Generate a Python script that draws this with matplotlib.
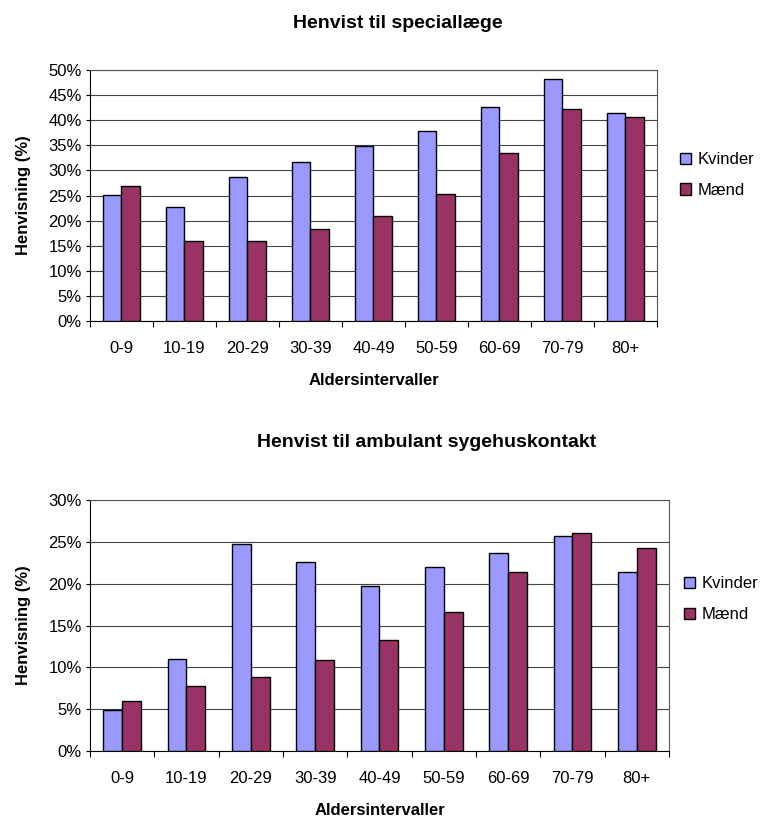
import numpy as np
import matplotlib.pyplot as plt
from matplotlib.ticker import PercentFormatter

plt.rcParams['font.family'] = ['Liberation Sans', 'DejaVu Sans']

# Data
age_groups = ['0-9', '10-19', '20-29', '30-39', '40-49', '50-59', '60-69', '70-79', '80+']
special_kvinder = [25.2, 22.8, 28.7, 31.6, 34.8, 37.8, 42.6, 48.3, 41.4]
special_maend = [26.8, 16.0, 16.0, 18.3, 20.9, 25.4, 33.5, 42.2, 40.7]
ambulant_kvinder = [4.9, 11.0, 24.7, 22.6, 19.7, 22.0, 23.7, 25.7, 21.4]
ambulant_maend = [6.0, 7.8, 8.8, 10.9, 13.3, 16.6, 21.4, 26.1, 24.3]

KVINDER_COLOR = '#9999FF'
MAEND_COLOR = '#993366'


def draw_panel(ax, kvinder, maend, title, ymax, title_x, title_pad, legend_x, legend_y):
    x = np.arange(len(age_groups))
    width = 0.292
    ax.bar(x - width / 2, kvinder, width, color=KVINDER_COLOR, edgecolor='black',
           linewidth=1.0, label='Kvinder', zorder=3)
    ax.bar(x + width / 2, maend, width, color=MAEND_COLOR, edgecolor='black',
           linewidth=1.0, label='Mænd', zorder=3)

    ax.set_xlim(-0.5, len(age_groups) - 0.5)
    ax.set_ylim(0, ymax)
    ax.set_yticks(np.arange(0, ymax + 0.1, 5))
    ax.yaxis.set_major_formatter(PercentFormatter(decimals=0))
    ax.yaxis.grid(True, color='#444444', linewidth=0.8, zorder=0)

    ax.set_xticks(x)
    ax.set_xticklabels(age_groups)
    ax.set_xticks(np.arange(-0.5, len(age_groups)), minor=True)
    ax.tick_params(axis='x', which='major', length=0, pad=14.5, labelsize=12)
    ax.tick_params(axis='x', which='minor', length=4, direction='out', width=0.8)
    ax.tick_params(axis='y', length=3, width=0.8, labelsize=12, pad=3)

    for sp in ax.spines.values():
        sp.set_linewidth(0.8)
        sp.set_color('black')
    ax.spines['top'].set_color('#555555')
    ax.spines['right'].set_color('#555555')

    ax.set_title(title, fontsize=14, fontweight='bold', pad=title_pad, x=title_x)
    ax.set_xlabel('Aldersintervaller', fontsize=12, fontweight='bold', labelpad=12)
    ax.set_ylabel('Henvisning (%)', fontsize=12, fontweight='bold', labelpad=12)

    ax.legend(loc='center left', bbox_to_anchor=(legend_x, legend_y), frameon=False,
              fontsize=12, handlelength=0.65, handleheight=0.65, handletextpad=0.4,
              labelspacing=0.95)


fig = plt.figure(figsize=(7.65, 8.22), dpi=100)
ax1 = fig.add_axes([0.1176, 0.6095, 0.7412, 0.3053])
ax2 = fig.add_axes([0.1176, 0.0864, 0.7569, 0.3053])

draw_panel(ax1, special_kvinder, special_maend, 'Henvist til speciallæge',
           50, 0.543, 30.5, 1.014, 0.582)
draw_panel(ax2, ambulant_kvinder, ambulant_maend, 'Henvist til ambulant sygehuskontakt',
           30, 0.582, 38, 1.0, 0.604)

fig.savefig('out.png', dpi=100)
plt.close(fig)
